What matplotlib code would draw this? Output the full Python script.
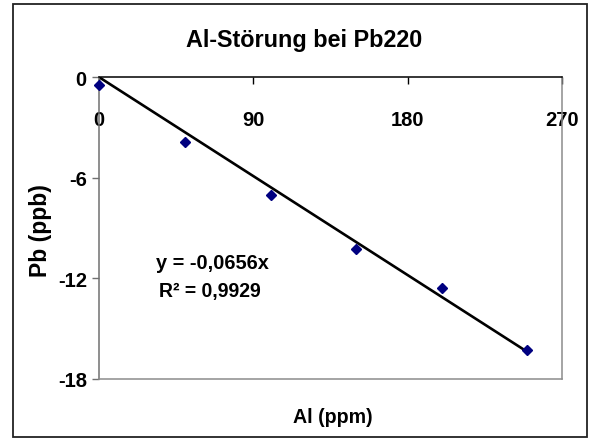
import numpy as np
import matplotlib
matplotlib.use('Agg')
import matplotlib.pyplot as plt
from matplotlib import font_manager as fm
from matplotlib.patches import Rectangle

# ---- data ----
al_ppm = [0, 50, 100, 150, 200, 250]
pb_ppb = [-0.46, -3.88, -7.02, -10.26, -12.57, -16.25]
x_ticks = [0, 90, 180, 270]
y_ticks = [0, -6, -12, -18]
title_text = "Al-Störung bei Pb220"
xlabel_text = "Al (ppm)"
ylabel_text = "Pb (ppb)"
eq_text = "y = -0,0656x"
r2_text = "R² = 0,9929"


def pick(fams):
    for f in fams:
        try:
            fm.findfont(fm.FontProperties(family=f, weight='bold'),
                        fallback_to_default=False)
            return f
        except Exception:
            pass
    return None


regular = pick(['Liberation Sans', 'Arial']) or 'DejaVu Sans'
narrow = pick(['Liberation Sans Narrow', 'Arial Narrow'])
if narrow is None:
    narrow = regular
    k = 0.84          # shrink to match the condensed widths of the original
else:
    k = 1.0

W, H = 589, 439
fig = plt.figure(figsize=(W / 100, H / 100), dpi=100)
fig.patch.set_facecolor('white')

# outer chart border
fig.patches.append(Rectangle((12.7 / W, 1.5 / H), (586.5 - 12.7) / W, (434.5 - 1.5) / H,
                             transform=fig.transFigure, fill=False,
                             edgecolor='#222222', linewidth=1.3))

left_px, right_px, top_px, bottom_px = 99.3, 561.7, 78.3, 380.0
ax = fig.add_axes([left_px / W, (H - bottom_px) / H,
                   (right_px - left_px) / W, (bottom_px - top_px) / H])
ax.set_xlim(0, 270)
ax.set_ylim(-18, 0)

x = np.array(al_ppm, dtype=float)
y = np.array(pb_ppb, dtype=float)
slope = np.sum(x * y) / np.sum(x * x)
xl = np.array([0, x.max()])
ax.plot(xl, slope * xl, color='black', linewidth=1.9, zorder=2)
ax.plot(x, y, linestyle='none', marker='D', markersize=5.5,
        color='#000080', zorder=3, clip_on=False)

# spines
ax.spines['top'].set_color('black')
ax.spines['top'].set_linewidth(1.1)
ax.spines['left'].set_color('#707070')
ax.spines['left'].set_linewidth(1.1)
for s in ('right', 'bottom'):
    ax.spines[s].set_color('#8c8c8c')
    ax.spines[s].set_linewidth(1.1)

tick_fs = 14.5 if k < 1 else 16
ax.xaxis.set_ticks_position('top')
ax.set_xticks(x_ticks)
ax.set_xticklabels([str(v) for v in x_ticks])
ax.tick_params(axis='x', direction='in', length=5, width=1, color='black',
               pad=-37.5, labelsize=tick_fs, labeltop=True, labelbottom=False)
ax.set_yticks(y_ticks)
ax.set_yticklabels([str(v) for v in y_ticks])
ax.tick_params(axis='y', direction='out', length=5, width=1, color='#707070',
               pad=4, labelsize=tick_fs)
for lab in ax.get_xticklabels() + ax.get_yticklabels():
    lab.set_fontfamily(narrow)
    lab.set_fontweight('bold')

fig.text(304.5 / W, 1 - 41 / H, title_text, ha='center', va='center',
         fontsize=20 * k, fontweight='bold', family=narrow)
fig.text(332.5 / W, 1 - 418 / H, xlabel_text, ha='center', va='center',
         fontsize=17 * (0.83 if k < 1 else 1), fontweight='bold', family=narrow)
fig.text(40.8 / W, 1 - 230.8 / H, ylabel_text, ha='center', va='center',
         rotation=90, fontsize=16.5, fontweight='bold', family=regular)

fig.text(212 / W, 1 - 264 / H, eq_text, ha='center', va='center',
         fontsize=16 * (0.9 if k < 1 else 1), fontweight='bold', family=narrow)
fig.text(210 / W, 1 - 291 / H, r2_text, ha='center', va='center',
         fontsize=16 * (0.88 if k < 1 else 1), fontweight='bold', family=narrow)

fig.savefig('out.png', dpi=100, facecolor='white')
